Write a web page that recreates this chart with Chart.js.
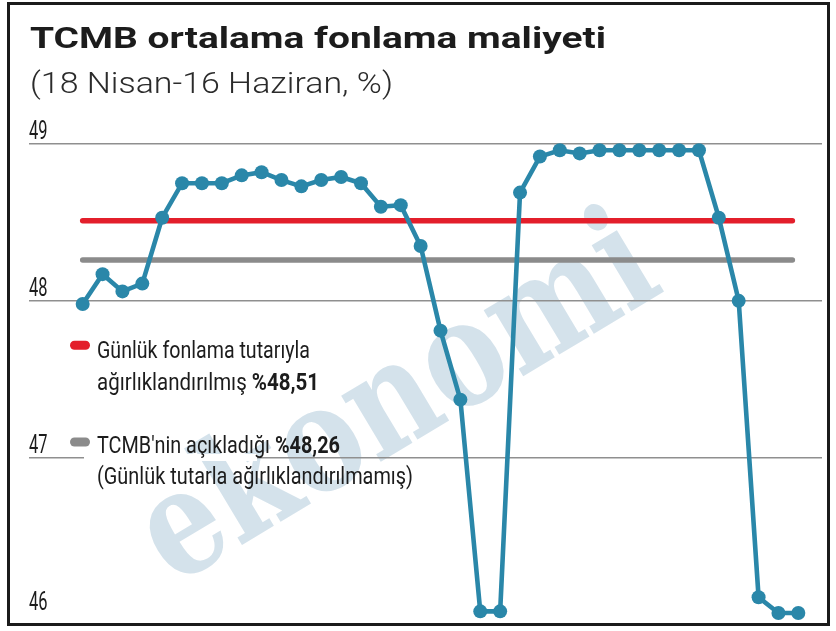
<!DOCTYPE html>
<html>
<head>
<meta charset="utf-8">
<script src="https://cdn.jsdelivr.net/npm/chart.js@4.4.1/dist/chart.umd.min.js"></script>
<style>
html,body{margin:0;padding:0;background:#fff;}
#wrap{position:relative;width:836px;height:631px;overflow:hidden;}
#frame{position:absolute;left:7px;top:2px;width:817px;height:618px;border:3px solid #1b1b1b;}
#c{position:absolute;left:0;top:0;width:836px;height:631px;}
</style>
</head>
<body>
<div id="wrap"><div id="frame"></div><canvas id="c" width="836" height="631"></canvas></div>
<script>
// ---- data ----
const TITLE = 'TCMB ortalama fonlama maliyeti';
const SUBTITLE = '(18 Nisan-16 Haziran, %)';
const dates = ['18 Nis','21 Nis','22 Nis','24 Nis','25 Nis','28 Nis','29 Nis','30 Nis','2 May','5 May','6 May','7 May','8 May','9 May','12 May','13 May','14 May','15 May','16 May','20 May','21 May','22 May','23 May','26 May','27 May','28 May','29 May','30 May','2 Haz','3 Haz','4 Haz','5 Haz','10 Haz','11 Haz','12 Haz','13 Haz','16 Haz'];
const fundingCost = [47.98,48.17,48.06,48.11,48.53,48.75,48.75,48.75,48.80,48.82,48.77,48.73,48.77,48.79,48.75,48.60,48.61,48.35,47.81,47.37,46.02,46.02,48.69,48.92,48.96,48.94,48.96,48.96,48.96,48.96,48.96,48.96,48.53,48.00,46.11,46.01,46.01];
const yTickValues = [46,47,48,49];
const yTickLabels = ['46','47','48','49'];
const weightedAvg = 48.51;   // Günlük fonlama tutarıyla ağırlıklandırılmış
const announcedAvg = 48.26;  // TCMB'nin açıkladığı
const legendWeighted = ['Günlük fonlama tutarıyla', 'ağırlıklandırılmış '];
const legendAnnounced = ["TCMB'nin açıkladığı ", '(Günlük tutarla ağırlıklandırılmamış)'];
const WATERMARK = 'ekonomi';

// ---- styles / layout ----
const TEAL = '#2a87a9', RED = '#e31f2b', GREY = '#8b8b8b', GRID = '#8f8f8f', INK = '#1c1c1c';
const FONT = 'Roboto, "Liberation Sans", sans-serif';
const X_MIN = -2.70, X_MAX = 37.19;
const REF_START = 0.0, REF_END = 35.7;

function fmtPct(v){ return '%' + v.toFixed(2).replace('.', ','); }

function drawFit(ctx, parts, x, y, width, align){
  let total = 0;
  parts.forEach(p => { ctx.font = p.font; p.w = ctx.measureText(p.text).width; total += p.w; });
  const s = width ? width / total : 1;
  ctx.save();
  ctx.translate(x, y);
  ctx.scale(s, 1);
  ctx.textAlign = 'left';
  ctx.textBaseline = 'alphabetic';
  let cx = align === 'center' ? -total / 2 : 0;
  parts.forEach(p => { ctx.font = p.font; ctx.fillStyle = p.color; ctx.fillText(p.text, cx, 0); cx += p.w; });
  ctx.restore();
}

const decor = {
  id: 'decor',
  beforeDraw(chart){
    const ctx = chart.ctx;
    // watermark
    ctx.save();
    ctx.translate(420, 438);
    ctx.rotate(-31 * Math.PI / 180);
    drawFit(ctx, [{text: WATERMARK, font: 'bold 148px "DejaVu Serif", "Liberation Serif", serif', color: '#d4e2eb'}], 0, 0, 575, 'center');
    ctx.restore();
  },
  afterDraw(chart){
    const ctx = chart.ctx;
    // title + subtitle
    drawFit(ctx, [{text: TITLE, font: 'bold 30px ' + FONT, color: INK}], 30, 48, 576);
    drawFit(ctx, [{text: SUBTITLE, font: '300 29px ' + FONT, color: '#2b2b2b'}], 30, 93, 363);
    // y tick labels via the scale
    const ys = chart.scales.y;
    ys.ticks.forEach(t => {
      const py = ys.getPixelForValue(t.value);
      drawFit(ctx, [{text: yTickLabels[yTickValues.indexOf(t.value)], font: '26px ' + FONT, color: INK}], 29, py - 4.7, 18.5);
    });
    // legend
    ctx.save();
    ctx.fillStyle = '#fff';
    ctx.fillRect(84, 454, 173, 7);
    ctx.lineCap = 'round';
    ctx.lineWidth = 9;
    ctx.strokeStyle = RED;
    ctx.beginPath(); ctx.moveTo(74.5, 345.3); ctx.lineTo(85.5, 345.3); ctx.stroke();
    ctx.strokeStyle = GREY;
    ctx.beginPath(); ctx.moveTo(74.5, 442); ctx.lineTo(85.5, 442); ctx.stroke();
    ctx.restore();
    const reg = '24px ' + FONT, bold = 'bold 24px ' + FONT;
    drawFit(ctx, [{text: legendWeighted[0], font: reg, color: INK}], 97, 358, 213);
    drawFit(ctx, [{text: legendWeighted[1], font: reg, color: INK}, {text: fmtPct(weightedAvg), font: bold, color: INK}], 97, 390, 222);
    drawFit(ctx, [{text: legendAnnounced[0], font: reg, color: INK}, {text: fmtPct(announcedAvg), font: bold, color: INK}], 97, 452.7, 243);
    drawFit(ctx, [{text: legendAnnounced[1], font: reg, color: INK}], 97, 484, 316);
  }
};

new Chart(document.getElementById('c').getContext('2d'), {
  type: 'line',
  data: {
    labels: dates,
    datasets: [
      { label: 'Ortalama fonlama maliyeti', data: fundingCost.map((v, i) => ({x: i, y: v})),
        borderColor: TEAL, backgroundColor: TEAL, pointBackgroundColor: TEAL, borderWidth: 4.6,
        pointRadius: 7, pointBorderWidth: 0, tension: 0, order: 0, clip: false },
      { label: 'Ağırlıklı', data: [{x: REF_START, y: weightedAvg}, {x: REF_END, y: weightedAvg}],
        borderColor: RED, borderWidth: 5.5, borderCapStyle: 'round', pointRadius: 0, order: 1, clip: false },
      { label: 'Açıklanan', data: [{x: REF_START, y: announcedAvg}, {x: REF_END, y: announcedAvg}],
        borderColor: GREY, borderWidth: 5.5, borderCapStyle: 'round', pointRadius: 0, order: 2, clip: false }
    ]
  },
  options: {
    responsive: false,
    animation: false,
    devicePixelRatio: 1,
    layout: { padding: { left: 29, right: 14, top: 144, bottom: 16.5 } },
    plugins: { legend: { display: false }, tooltip: { enabled: false }, title: { display: false } },
    scales: {
      x: { type: 'linear', min: X_MIN, max: X_MAX, display: false },
      y: {
        min: 46, max: 49,
        afterBuildTicks: s => { s.ticks = yTickValues.map(v => ({value: v})); },
        ticks: { display: false },
        border: { display: false },
        grid: { drawTicks: false, lineWidth: 1.6, color: c => (c.tick && c.tick.value === 46) ? 'rgba(0,0,0,0)' : GRID },
        afterFit: s => { s.width = 0; }
      }
    }
  },
  plugins: [decor]
});
</script>
</body>
</html>
